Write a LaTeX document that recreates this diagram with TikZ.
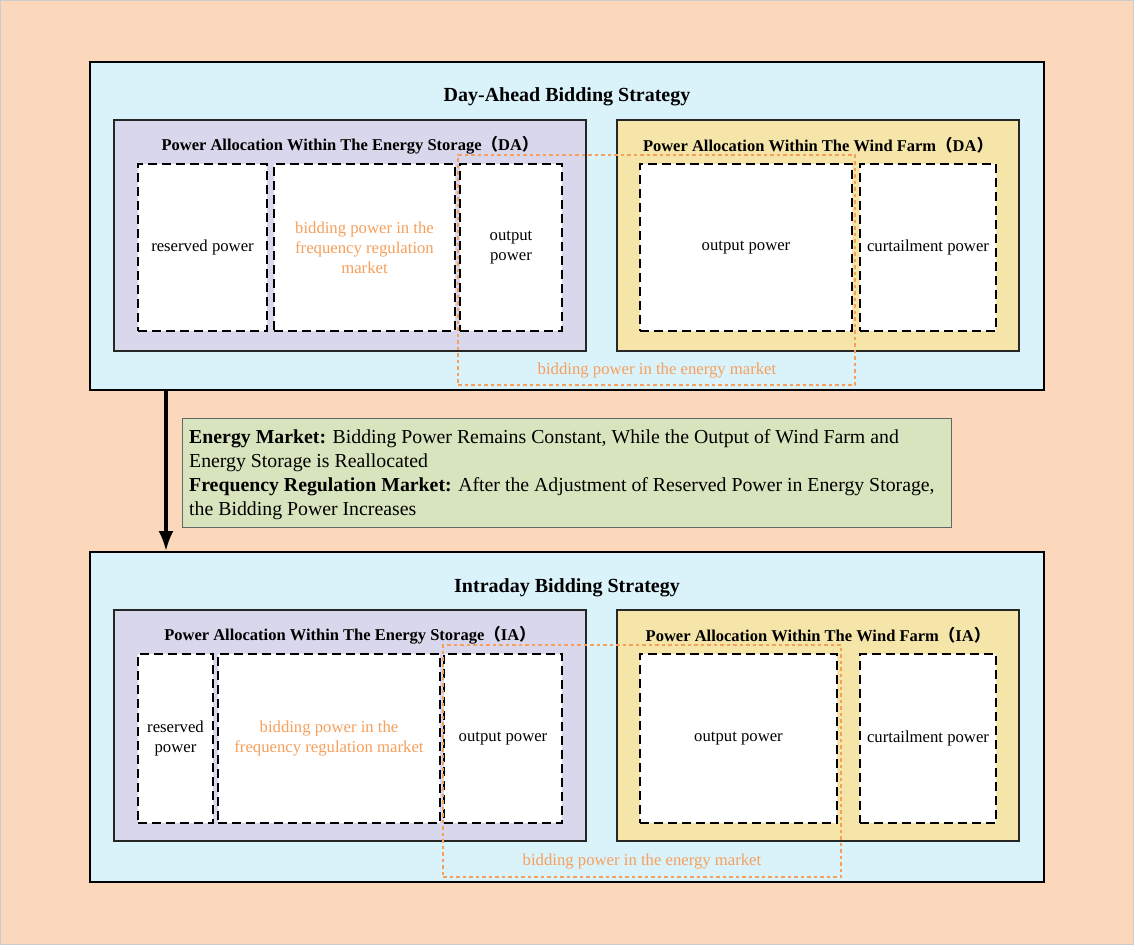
\documentclass[tikz,border=0pt]{standalone}
\usepackage{fontspec}
\setmainfont{Liberation Serif}
\newfontfamily\cjk{Noto Sans CJK SC}
\usetikzlibrary{arrows.meta}
\definecolor{bgpeach}{RGB}{251,215,187}
\definecolor{lblue}{RGB}{218,242,250}
\definecolor{lpurple}{RGB}{217,215,236}
\definecolor{lyellow}{RGB}{246,229,168}
\definecolor{lgreen}{RGB}{215,228,189}
\definecolor{morange}{RGB}{246,160,92}
\begin{document}
\begin{tikzpicture}[x=1pt,y=-1pt,
  outerbox/.style={draw=black,line width=1.8pt,fill=lblue,inner sep=0pt},
  purplebox/.style={draw=black!85,line width=1.3pt,fill=lpurple,inner sep=0pt},
  yellowbox/.style={draw=black!85,line width=1.3pt,fill=lyellow,inner sep=0pt},
  dbox/.style={draw=black,line width=1.6pt,dash pattern=on 9pt off 5pt,fill=white,inner sep=0pt,minimum height=167pt,align=center,font=\fontsize{16.7}{20}\selectfont},
  obox/.style={draw=morange,line width=2.2pt,dash pattern=on 3.5pt off 3pt,inner sep=0pt},
  olabel/.style={text=morange,font=\fontsize{16.7}{20}\selectfont},
  bigtitle/.style={font=\bfseries\fontsize{20}{22}\selectfont},
  subtitle/.style={font=\bfseries\fontsize{16.5}{18}\selectfont},
  greenbox/.style={draw=black!60,line width=0.8pt,fill=lgreen,inner sep=0pt},
  arr/.style={line width=3.5pt,-{Latex[length=20pt,width=15pt]}}
]
\node[draw=black!20,line width=0.8pt,fill=bgpeach,minimum width=1133pt,minimum height=944pt,inner sep=0pt] (bg) at (567,472.5) {};
\useasboundingbox (0,0) rectangle (1134,945);

% ---------- Day-Ahead ----------
\node[outerbox,minimum width=954pt,minimum height=328pt] (da) at (567,226) {};
\node[bigtitle] (datitle) at (567,97) {Day-Ahead Bidding Strategy};
\node[purplebox,minimum width=472pt,minimum height=231pt] (daes) at (350,235.5) {};
\node[subtitle] (daestitle) at (350,145) {Power Allocation Within The Energy Storage{\cjk （}DA{\cjk ）}};
\node[yellowbox,minimum width=402pt,minimum height=231pt] (dawf) at (818,235.5) {};
\node[subtitle] (dawftitle) at (818,145) {Power Allocation Within The Wind Farm{\cjk （}DA{\cjk ）}};
\node[dbox,minimum width=129pt] (dares) at (202.5,247.5) {reserved power};
\node[dbox,minimum width=181pt,text=morange] (dabid) at (364.5,247.5) {bidding power in the\\frequency regulation\\market};
\node[dbox,minimum width=102pt] (daout) at (511,247.5) {output\\power};
\node[dbox,minimum width=212pt] (dawout) at (746,247.5) {output power};
\node[dbox,minimum width=136pt] (dacur) at (928,247.5) {curtailment power};
\node[obox,minimum width=397pt,minimum height=230pt] (daem) at (656.5,270) {};
\node[olabel] (daemlabel) at (657,371) {bidding power in the energy market};

% ---------- Intraday ----------
\node[outerbox,minimum width=954pt,minimum height=330pt] (ia) at (567,717) {};
\node[bigtitle] (iatitle) at (567,588) {Intraday Bidding Strategy};
\node[purplebox,minimum width=472pt,minimum height=231pt] (iaes) at (350,725.5) {};
\node[subtitle] (iaestitle) at (350,635) {Power Allocation Within The Energy Storage{\cjk （}IA{\cjk ）}};
\node[yellowbox,minimum width=402pt,minimum height=231pt] (iawf) at (818,725.5) {};
\node[subtitle] (iawftitle) at (818,635) {Power Allocation Within The Wind Farm{\cjk （}IA{\cjk ）}};
\node[dbox,minimum width=75pt,minimum height=169pt] (iares) at (175.5,738.5) {reserved\\power};
\node[dbox,minimum width=222pt,minimum height=169pt,text=morange] (iabid) at (329,738.5) {bidding power in the\\frequency regulation market};
\node[dbox,minimum width=118pt,minimum height=169pt] (iaout) at (503,738.5) {output power};
\node[dbox,minimum width=197pt,minimum height=169pt] (iawout) at (738.5,738.5) {output power};
\node[dbox,minimum width=136pt,minimum height=169pt] (iacur) at (928,738.5) {curtailment power};
\node[obox,minimum width=398pt,minimum height=232pt] (iaem) at (642,761) {};
\node[olabel] (iaemlabel) at (642,861) {bidding power in the energy market};

% ---------- transition ----------
\node[greenbox,minimum width=769pt,minimum height=109pt] (note) at (566.5,472.5) {};
\node[anchor=north west,inner sep=0pt,align=left,font=\fontsize{19.8}{24}\selectfont] (notetext) at (189,429)
 {\textbf{Energy Market:} Bidding Power Remains Constant, While the Output of Wind Farm and\\
  Energy Storage is Reallocated\\
  \textbf{Frequency Regulation Market:} After the Adjustment of Reserved Power in Energy Storage,\\
  the Bidding Power Increases};
\coordinate (astart) at (166,390);
\draw[arr] (astart) -- (astart |- ia.north);
\end{tikzpicture}
\end{document}
